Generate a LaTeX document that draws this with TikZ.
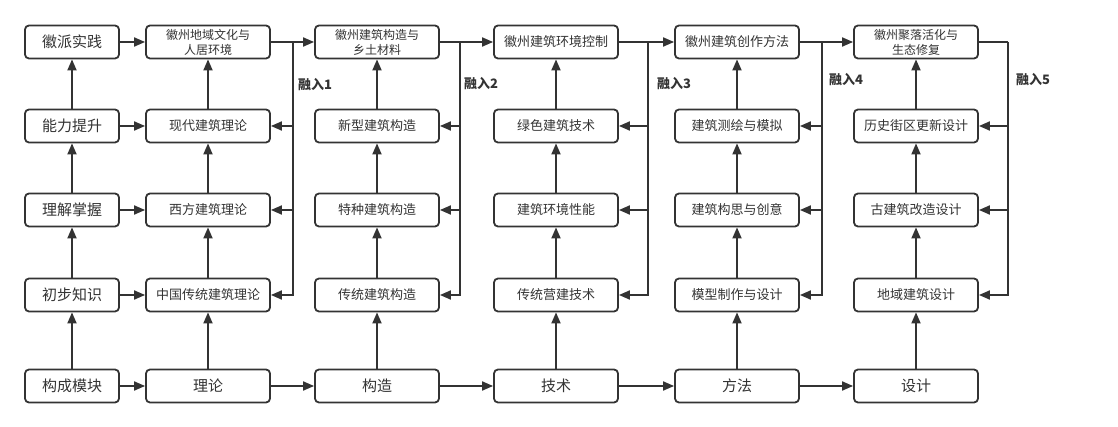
\documentclass[tikz,border=0pt]{standalone}
\usepackage{fontspec}
\newfontfamily\cjk{Noto Sans CJK SC}
\usetikzlibrary{arrows.meta}
\definecolor{ink}{HTML}{333333}

\begin{document}
\begin{tikzpicture}[
		x=1pt, y=-1pt,
		box/.style={draw=ink, line width=1.8pt, rounded corners=4pt, fill=white, text=ink,
			minimum width=124pt, minimum height=33pt, inner sep=0pt, align=center,
			font=\cjk\fontsize{13}{15}\selectfont},
		sbox/.style={box, minimum width=94pt, font=\cjk\fontsize{15}{18}\selectfont},
		tbox/.style={box, font=\cjk\fontsize{12}{15}\selectfont},
		bbox/.style={box, font=\cjk\fontsize{15}{18}\selectfont},
		lab/.style={text=ink, font=\cjk\bfseries\fontsize{13}{15}\selectfont},
		line/.style={draw=ink, line width=1.8pt},
		>={Triangle[length=11pt,width=9pt]}]
	\useasboundingbox (0,0) rectangle (1118,427);
	%% left column
	\node (a1) at (72,42) [sbox] {徽派实践};
	\node (a2) at (72,126) [sbox] {能力提升};
	\node (a3) at (72,210) [sbox] {理解掌握};
	\node (a4) at (72,295) [sbox] {初步知识};
	\node (a5) at (72,386) [sbox] {构成模块};
	%% theory
	\node (b1) at (208,42) [tbox] {徽州地域文化与\\人居环境};
	\node (b2) at (208,126) [box] {现代建筑理论};
	\node (b3) at (208,210) [box] {西方建筑理论};
	\node (b4) at (208,295) [box] {中国传统建筑理论};
	\node (b5) at (208,386) [bbox] {理论};
	%% construction
	\node (c1) at (377,42) [tbox] {徽州建筑构造与\\乡土材料};
	\node (c2) at (377,126) [box] {新型建筑构造};
	\node (c3) at (377,210) [box] {特种建筑构造};
	\node (c4) at (377,295) [box] {传统建筑构造};
	\node (c5) at (377,386) [bbox] {构造};
	%% technique
	\node (d1) at (556,42) [box] {徽州建筑环境控制};
	\node (d2) at (556,126) [box] {绿色建筑技术};
	\node (d3) at (556,210) [box] {建筑环境性能};
	\node (d4) at (556,295) [box] {传统营建技术};
	\node (d5) at (556,386) [bbox] {技术};
	%% method
	\node (e1) at (737,42) [box] {徽州建筑创作方法};
	\node (e2) at (737,126) [box] {建筑测绘与模拟};
	\node (e3) at (737,210) [box] {建筑构思与创意};
	\node (e4) at (737,295) [box] {模型制作与设计};
	\node (e5) at (737,386) [bbox] {方法};
	%% design
	\node (f1) at (916,42) [tbox] {徽州聚落活化与\\生态修复};
	\node (f2) at (916,126) [box] {历史街区更新设计};
	\node (f3) at (916,210) [box] {古建筑改造设计};
	\node (f4) at (916,295) [box] {地域建筑设计};
	\node (f5) at (916,386) [bbox] {设计};
	%% bus points
	\coordinate (j1) at (293,42);
	\coordinate (j2) at (460,42);
	\coordinate (j3) at (648,42);
	\coordinate (j4) at (822,42);
	\coordinate (j5) at (1008,42);
	\node (l1) at (315,85) [lab] {融入1};
	\node (l2) at (481,84) [lab] {融入2};
	\node (l3) at (674,84) [lab] {融入3};
	\node (l4) at (846,80) [lab] {融入4};
	\node (l5) at (1033,80) [lab] {融入5};
	%% upward chains
	\draw[line,->] (a5) -- (a4); \draw[line,->] (a4) -- (a3); \draw[line,->] (a3) -- (a2); \draw[line,->] (a2) -- (a1);
	\draw[line,->] (b5) -- (b4); \draw[line,->] (b4) -- (b3); \draw[line,->] (b3) -- (b2); \draw[line,->] (b2) -- (b1);
	\draw[line,->] (c5) -- (c4); \draw[line,->] (c4) -- (c3); \draw[line,->] (c3) -- (c2); \draw[line,->] (c2) -- (c1);
	\draw[line,->] (d5) -- (d4); \draw[line,->] (d4) -- (d3); \draw[line,->] (d3) -- (d2); \draw[line,->] (d2) -- (d1);
	\draw[line,->] (e5) -- (e4); \draw[line,->] (e4) -- (e3); \draw[line,->] (e3) -- (e2); \draw[line,->] (e2) -- (e1);
	\draw[line,->] (f5) -- (f4); \draw[line,->] (f4) -- (f3); \draw[line,->] (f3) -- (f2); \draw[line,->] (f2) -- (f1);
	%% left column into theory
	\draw[line,->] (a1) -- (b1); \draw[line,->] (a2) -- (b2); \draw[line,->] (a3) -- (b3); \draw[line,->] (a4) -- (b4);
	%% bottom row
	\draw[line,->] (a5) -- (b5); \draw[line,->] (b5) -- (c5); \draw[line,->] (c5) -- (d5);
	\draw[line,->] (d5) -- (e5); \draw[line,->] (e5) -- (f5);
	%% top row
	\draw[line,->] (b1) -- (c1); \draw[line,->] (c1) -- (d1); \draw[line,->] (d1) -- (e1);
	\draw[line,->] (e1) -- (f1); \draw[line] (f1) -- (j5);
	%% buses
	\draw[line,->] (j1) |- (b4); \draw[line,->] (j1 |- b2) -- (b2); \draw[line,->] (j1 |- b3) -- (b3);
	\draw[line,->] (j2) |- (c4); \draw[line,->] (j2 |- c2) -- (c2); \draw[line,->] (j2 |- c3) -- (c3);
	\draw[line,->] (j3) |- (d4); \draw[line,->] (j3 |- d2) -- (d2); \draw[line,->] (j3 |- d3) -- (d3);
	\draw[line,->] (j4) |- (e4); \draw[line,->] (j4 |- e2) -- (e2); \draw[line,->] (j4 |- e3) -- (e3);
	\draw[line,->] (j5) |- (f4); \draw[line,->] (j5 |- f2) -- (f2); \draw[line,->] (j5 |- f3) -- (f3);
\end{tikzpicture}
\end{document}
